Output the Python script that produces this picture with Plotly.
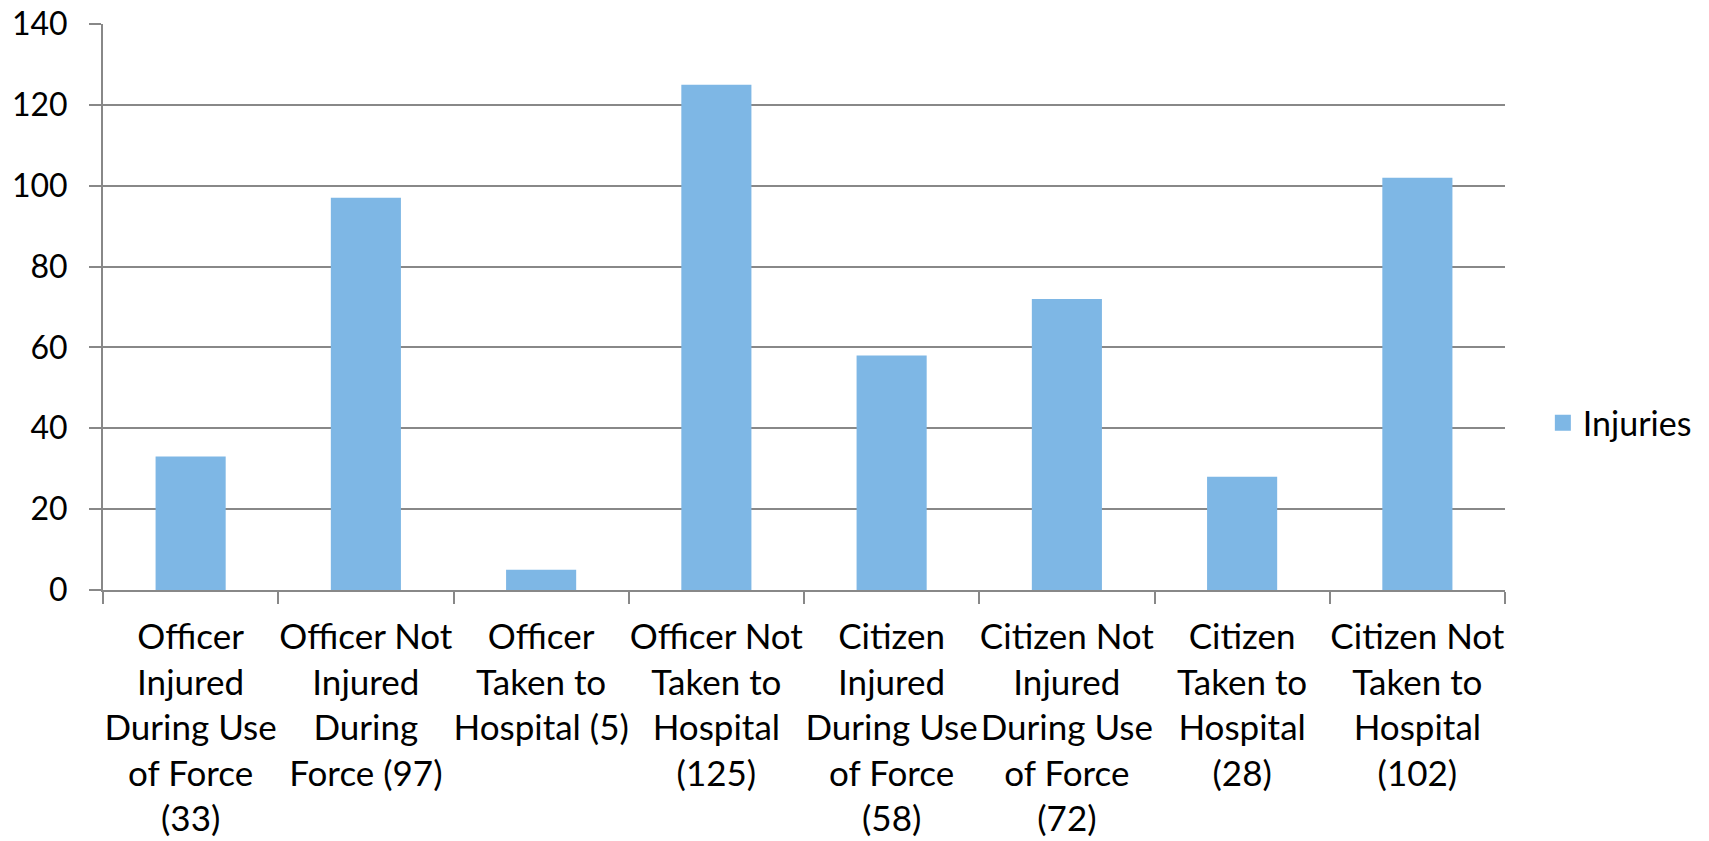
import plotly.graph_objects as go

categories = [
    "Officer<br>Injured<br>During Use<br>of Force<br>(33)",
    "Officer Not<br>Injured<br>During<br>Force (97)",
    "Officer<br>Taken to<br>Hospital (5)",
    "Officer Not<br>Taken to<br>Hospital<br>(125)",
    "Citizen<br>Injured<br>During Use<br>of Force<br>(58)",
    "Citizen Not<br>Injured<br>During Use<br>of Force<br>(72)",
    "Citizen<br>Taken to<br>Hospital<br>(28)",
    "Citizen Not<br>Taken to<br>Hospital<br>(102)",
]
injuries = [33, 97, 5, 125, 58, 72, 28, 102]
y_ticks = [0, 20, 40, 60, 80, 100, 120, 140]

FONT = "Lato"
GRID = "#888888"
BAR = "#7EB7E5"

fig = go.Figure()
fig.add_trace(go.Bar(
    x=categories, y=injuries, name="Injuries", showlegend=False,
    marker=dict(color=BAR, line=dict(width=0)),
))
# legend proxy with larger square swatch
fig.add_trace(go.Scatter(
    x=[None], y=[None], mode="markers", name="Injuries",
    marker=dict(symbol="square", size=21, color=BAR),
))

fig.update_layout(
    width=1709, height=841,
    margin=dict(l=103, r=200, t=24, b=251),
    paper_bgcolor="white", plot_bgcolor="white",
    font=dict(family=FONT, size=35, color="#000000"),
    bargap=0.6,
    showlegend=True,
    legend=dict(
        x=1.027, y=0.295, xanchor="left", yanchor="middle",
        font=dict(family=FONT, size=34),
        itemwidth=30,
    ),
    xaxis=dict(
        type="category",
        automargin=False,
        showline=True, linecolor=GRID, linewidth=2,
        ticks="outside", tickson="boundaries", ticklen=12, tickcolor=GRID, tickwidth=2,
        showgrid=False,
        tickfont=dict(family=FONT, size=35),
        ticklabelstandoff=15,
        tickangle=0,
    ),
    yaxis=dict(
        range=[0, 140],
        automargin=False,
        tickvals=y_ticks,
        showline=True, linecolor=GRID, linewidth=2,
        ticks="outside", ticklen=12, tickcolor=GRID, tickwidth=2,
        showgrid=True, gridcolor=GRID, gridwidth=1.5,
        zeroline=False,
        tickfont=dict(family=FONT, size=32),
        ticklabelstandoff=15,
    ),
)

fig.write_html(
    "out.html",
    config={"displayModeBar": False},
    post_script="document.body.style.margin='0px';document.body.style.overflow='hidden';",
)
